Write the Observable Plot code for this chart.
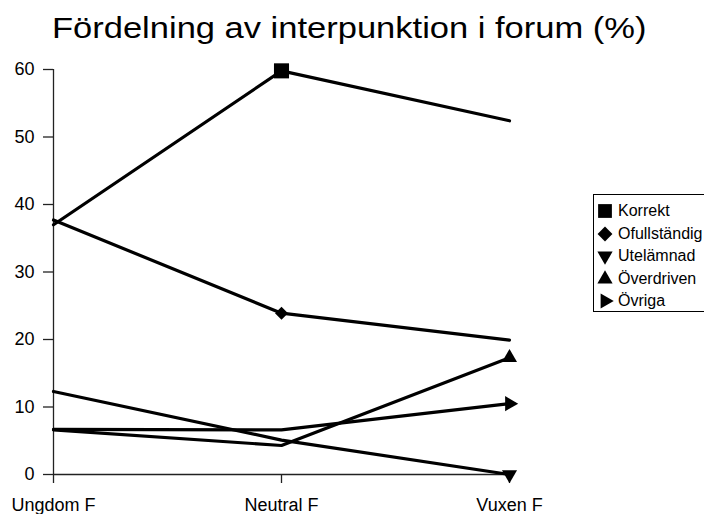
<!DOCTYPE html>
<html>
<head>
<meta charset="utf-8">
<script src="https://cdn.jsdelivr.net/npm/d3@7"></script>
<script src="https://cdn.jsdelivr.net/npm/@observablehq/plot@0.6"></script>
<style>
  html, body { margin: 0; padding: 0; background: #fff; }
  #wrap { position: relative; width: 704px; height: 514px; font-family: "Liberation Sans", Arial, sans-serif; overflow: hidden; }
  #title { position: absolute; left: 52px; top: 13px; font-size: 30px; line-height: 30px; color: #000; white-space: nowrap; transform: scaleX(1.15); transform-origin: 0 0; }
  #chart { position: absolute; left: 0; top: 56px; }
  #legend { position: absolute; left: 593px; top: 194px; width: 130px; height: 118px; border: 1px solid #000; box-sizing: border-box; background: #fff; }
  .li { position: absolute; left: 0; height: 22px; font-size: 16px; color: #000; white-space: nowrap; }
  .li svg { position: absolute; left: 1px; top: 0; }
  .li span { position: absolute; left: 24px; top: 2px; line-height: 18px; }
</style>
</head>
<body>
<div id="wrap">
  <div id="title">Fördelning av interpunktion i forum (%)</div>
  <div id="chart"></div>
  <div id="legend"></div>
</div>
<script>
const categories = ["Ungdom F", "Neutral F", "Vuxen F"];
const seriesNames = ["Korrekt", "Ofullständig", "Utelämnad", "Överdriven", "Övriga"];
const korrekt = [37.0, 59.8, 52.4];
const ofullstandig = [37.7, 23.9, 19.9];
const utelamnad = [12.3, 5.1, 0.0];
const overdriven = [6.6, 4.3, 17.3];
const ovriga = [6.7, 6.6, 10.5];
const markerAt = ["Neutral F", "Neutral F", "Vuxen F", "Vuxen F", "Vuxen F"];
const yTicks = [0, 10, 20, 30, 40, 50, 60];

const seriesValues = [korrekt, ofullstandig, utelamnad, overdriven, ovriga];
const symbols = [
  {symbol: "square", rotate: 0, r: 8.5},
  {symbol: "square", rotate: 45, r: 5.2},
  {symbol: "triangle", rotate: 180, r: 5.6},
  {symbol: "triangle", rotate: 0, r: 5.6},
  {symbol: "triangle", rotate: 90, r: 5.6}
];

const rows = [];
seriesNames.forEach((s, i) => {
  categories.forEach((c, j) => rows.push({series: s, cat: c, value: seriesValues[i][j]}));
});

const markMarks = seriesNames.map((s, i) =>
  Plot.dot(rows.filter(d => d.series === s && d.cat === markerAt[i]), {
    x: "cat", y: "value", symbol: symbols[i].symbol, rotate: symbols[i].rotate,
    r: symbols[i].r, fill: "black", stroke: "none"
  })
);

const plot = Plot.plot({
  width: 704,
  height: 458,
  marginLeft: 53,
  marginRight: 195,
  marginTop: 13,
  marginBottom: 40,
  style: {fontFamily: "'Liberation Sans', Arial, sans-serif", fontSize: "18px", color: "#000", background: "transparent", overflow: "visible"},
  x: {type: "point", domain: categories, padding: 0},
  y: {domain: [0, 60]},
  marks: [
    Plot.axisY({ticks: yTicks, tickSize: 10, tickPadding: 9, tickFormat: d => String(d), label: null, stroke: "#222", strokeWidth: 1.3, fontSize: 18}),
    Plot.axisX({tickSize: 9, tickPadding: 15, label: null, stroke: "#222", strokeWidth: 1.3, fontSize: 18}),
    Plot.ruleX([categories[0]], {y1: 0, y2: 60, stroke: "#222", strokeWidth: 1.3}),
    Plot.ruleY([0], {stroke: "#222", strokeWidth: 1.3}),
    Plot.line(rows, {x: "cat", y: "value", z: "series", stroke: "black", strokeWidth: 3.2, strokeLinejoin: "miter"}),
    ...markMarks
  ]
});
document.getElementById("chart").appendChild(plot);

// legend
const legend = document.getElementById("legend");
const legendSymbols = [
  {type: d3.symbolSquare, size: 190, rotate: 0},
  {type: d3.symbolSquare, size: 110, rotate: 45},
  {type: d3.symbolTriangle, size: 100, rotate: 180},
  {type: d3.symbolTriangle, size: 100, rotate: 0},
  {type: d3.symbolTriangle, size: 100, rotate: 90}
];
seriesNames.forEach((s, i) => {
  const item = document.createElement("div");
  item.className = "li";
  item.style.top = (5 + i * 22.5) + "px";
  const ns = "http://www.w3.org/2000/svg";
  const svg = document.createElementNS(ns, "svg");
  svg.setAttribute("width", 20);
  svg.setAttribute("height", 22);
  const p = document.createElementNS(ns, "path");
  p.setAttribute("d", d3.symbol(legendSymbols[i].type, legendSymbols[i].size)());
  p.setAttribute("transform", `translate(10,11) rotate(${legendSymbols[i].rotate})`);
  p.setAttribute("fill", "black");
  svg.appendChild(p);
  item.appendChild(svg);
  const t = document.createElement("span");
  t.textContent = s;
  item.appendChild(t);
  legend.appendChild(item);
});
</script>
</body>
</html>
